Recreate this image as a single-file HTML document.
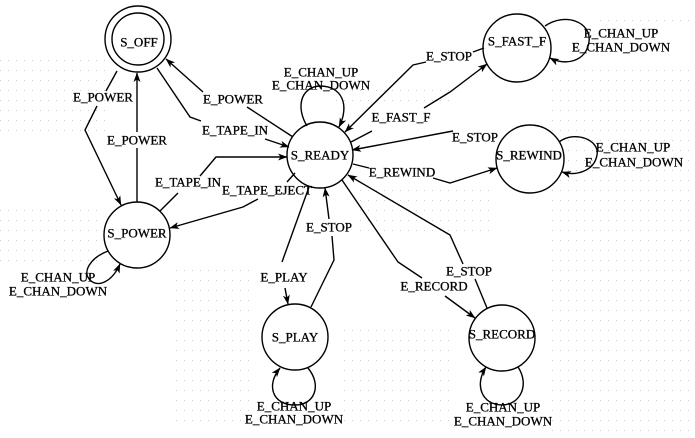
<!DOCTYPE html>
<html><head><meta charset="utf-8"><style>
html,body{margin:0;padding:0;background:#fff;}
body{width:695px;height:438px;overflow:hidden;}
svg{display:block;}
text{font-family:"Liberation Serif",serif;font-size:13px;fill:#000;stroke:#000;stroke-width:0.3;text-anchor:middle;}
</style></head><body>
<svg width="695" height="438" viewBox="0 0 695 438" xmlns="http://www.w3.org/2000/svg">
<defs>
<pattern id="dots" width="8" height="10" patternUnits="userSpaceOnUse"><rect x="0" y="0" width="1" height="1" fill="#cdcdcd"/></pattern>
<marker id="ah" markerUnits="userSpaceOnUse" markerWidth="12" markerHeight="8" refX="9" refY="3.5" orient="auto"><path d="M0,0 L9.5,3.5 L0,7 L2.5,3.5 z" fill="#000"/></marker>
</defs>
<!-- faint dotted grid -->
<rect x="0" y="55" width="108" height="80" fill="url(#dots)"/>
<rect x="0" y="205" width="100" height="60" fill="url(#dots)"/>
<rect x="170" y="270" width="80" height="160" fill="url(#dots)"/>
<rect x="330" y="85" width="120" height="20" fill="url(#dots)"/>
<rect x="360" y="190" width="130" height="50" fill="url(#dots)"/>
<rect x="545" y="70" width="150" height="368" fill="url(#dots)"/>
<rect x="600" y="15" width="95" height="12" fill="url(#dots)"/>
<rect x="340" y="330" width="110" height="100" fill="url(#dots)"/>

<g fill="none" stroke="#000" stroke-width="1.4">
<!-- nodes -->
<circle cx="138" cy="39" r="33" fill="#fff"/>
<circle cx="138" cy="39" r="26"/>
<circle cx="320" cy="155" r="33" fill="#fff"/>
<circle cx="517" cy="48" r="34" fill="#fff"/>
<circle cx="530" cy="159" r="34" fill="#fff"/>
<circle cx="137" cy="235" r="33" fill="#fff"/>
<circle cx="295" cy="337" r="33" fill="#fff"/>
<circle cx="502" cy="338" r="33" fill="#fff"/>

<!-- S_OFF -> S_POWER (E_POWER left) -->
<polyline points="117,71 106,91"/>
<polyline points="97,106 85,130 121,205" marker-end="url(#ah)"/>
<!-- S_POWER -> S_OFF (E_POWER middle) -->
<polyline points="137,202 137,148"/>
<polyline points="137,132 137,73" marker-end="url(#ah)"/>
<!-- S_READY -> S_OFF (E_POWER upper) -->
<polyline points="293,137 247,107"/>
<polyline points="203,92 166,59" marker-end="url(#ah)"/>
<!-- S_OFF -> S_READY (E_TAPE_IN) -->
<polyline points="157,68 190,117 201,121"/>
<polyline points="265,139 289,147" marker-end="url(#ah)"/>
<!-- S_POWER -> S_READY (E_TAPE_IN lower) -->
<polyline points="160,211 178,193"/>
<polyline points="200,176 216,157 287,157" marker-end="url(#ah)"/>
<!-- S_READY -> S_POWER (E_TAPE_EJECT) -->
<polyline points="295,173 287,182"/>
<polyline points="258,199 243,207 170,228" marker-end="url(#ah)"/>
<!-- S_READY -> S_PLAY (E_PLAY) -->
<polyline points="309,187 282,262"/>
<polyline points="285,288 288,304" marker-end="url(#ah)"/>
<!-- S_PLAY -> S_READY (E_STOP) -->
<polyline points="311,307 334,260 332,236"/>
<polyline points="329,219 325,188" marker-end="url(#ah)"/>
<!-- S_READY -> S_RECORD (E_RECORD) -->
<polyline points="342,180 398,262 422,278"/>
<polyline points="445,296 475,318" marker-end="url(#ah)"/>
<!-- S_RECORD -> S_READY (E_STOP) -->
<polyline points="487,308 475,279"/>
<polyline points="463,264 450,235 348,175" marker-end="url(#ah)"/>
<!-- S_READY -> S_FAST_F (E_FAST_F) -->
<polyline points="351,142 372,131"/>
<polyline points="424,108 450,92 487,64" marker-end="url(#ah)"/>
<!-- S_FAST_F -> S_READY (E_STOP) -->
<polyline points="484,48 473,52"/>
<polyline points="426,62 413,65 345,132" marker-end="url(#ah)"/>
<!-- S_REWIND -> S_READY (E_STOP) -->
<polyline points="453,131 352,150" marker-end="url(#ah)"/>
<!-- S_READY -> S_REWIND (E_REWIND) -->
<polyline points="353,164 369,168"/>
<polyline points="433,178 450,183 497,168" marker-end="url(#ah)"/>

<!-- self loops -->
<path d="M307,126 C296,108 300,87 320,86 C342,86 350,105 339,127" marker-end="url(#ah)"/>
<path d="M545,26 C565,12 592,22 589,42 C586,62 565,66 550,58" marker-end="url(#ah)"/>
<path d="M559,142 C575,130 600,140 597,155 C594,172 575,176 562,172" marker-end="url(#ah)"/>
<path d="M108,251 C90,258 82,272 90,280 C98,288 112,282 120,264" marker-end="url(#ah)"/>
<path d="M308,368 C322,385 315,405 295,405 C272,405 266,385 280,368" marker-end="url(#ah)"/>
<path d="M518,367 C530,385 520,405 502,405 C482,405 474,385 486,367" marker-end="url(#ah)"/>
</g>

<!-- node labels -->
<text x="139" y="46.5">S_OFF</text>
<text x="320" y="159.5">S_READY</text>
<text x="517" y="45.5">S_FAST_F</text>
<text x="529" y="159.5">S_REWIND</text>
<text x="137" y="237.5">S_POWER</text>
<text x="295" y="341.5">S_PLAY</text>
<text x="502" y="338.5">S_RECORD</text>

<!-- edge labels -->
<text x="103" y="101.5">E_POWER</text>
<text x="137" y="144.5">E_POWER</text>
<text x="233" y="103.5">E_POWER</text>
<text x="235" y="134.5">E_TAPE_IN</text>
<text x="188" y="186.5">E_TAPE_IN</text>
<text x="267" y="194.5">E_TAPE_EJECT</text>
<text x="321" y="76.5">E_CHAN_UP</text>
<text x="321" y="89.5">E_CHAN_DOWN</text>
<text x="449" y="60.5">E_STOP</text>
<text x="401" y="121.5">E_FAST_F</text>
<text x="475" y="141.5">E_STOP</text>
<text x="402" y="176.5">E_REWIND</text>
<text x="621" y="37.5">E_CHAN_UP</text>
<text x="621" y="51.5">E_CHAN_DOWN</text>
<text x="633" y="151.5">E_CHAN_UP</text>
<text x="634" y="166.5">E_CHAN_DOWN</text>
<text x="58" y="281.5">E_CHAN_UP</text>
<text x="58" y="295.5">E_CHAN_DOWN</text>
<text x="284" y="281.5">E_PLAY</text>
<text x="329" y="231.5">E_STOP</text>
<text x="434" y="290.5">E_RECORD</text>
<text x="469" y="275.5">E_STOP</text>
<text x="294" y="410.5">E_CHAN_UP</text>
<text x="294" y="423.5">E_CHAN_DOWN</text>
<text x="503" y="411.5">E_CHAN_UP</text>
<text x="503" y="425.5">E_CHAN_DOWN</text>
</svg>
</body></html>
